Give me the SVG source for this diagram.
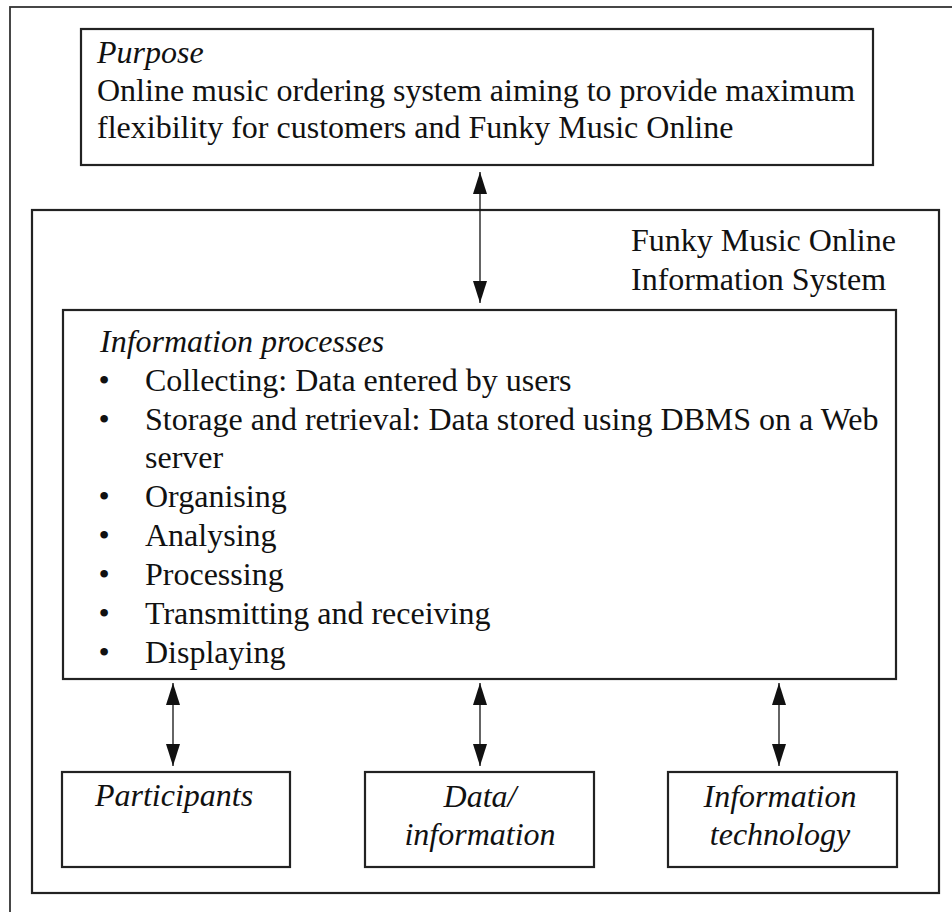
<svg xmlns="http://www.w3.org/2000/svg" width="952" height="912" viewBox="0 0 952 912">
  <defs>
    <style>
      .box { fill: none; stroke: #222; stroke-width: 2.2; }
      .frame { fill: none; stroke: #333; stroke-width: 1.8; }
      .t { font-family: "Liberation Serif", "Times New Roman", serif; font-size: 32px; fill: #111; }
      .i { font-style: italic; }
      .c { text-anchor: middle; }
      .conn { stroke: #111; stroke-width: 1.3; fill: none; marker-start: url(#ah); marker-end: url(#ah); }
    </style>
    <marker id="ah" markerUnits="userSpaceOnUse" markerWidth="22" markerHeight="14" viewBox="0 0 22 14" refX="22" refY="7" orient="auto-start-reverse">
      <path d="M0,0 L22,7 L0,14 Z" fill="#111"/>
    </marker>
  </defs>
  <rect width="952" height="912" fill="#fff"/>
  <rect class="frame" x="10" y="7" width="960" height="930"/>

  <g id="purpose">
    <rect class="box" x="81" y="29" width="792" height="136"/>
    <text class="t i" x="97" y="63">Purpose</text>
    <text class="t" x="97" y="101">Online music ordering system aiming to provide maximum</text>
    <text class="t" x="97" y="138">flexibility for customers and Funky Music Online</text>
  </g>

  <g id="system">
    <rect class="box" x="32" y="210" width="907" height="683"/>
    <text class="t" x="631" y="251">Funky Music Online</text>
    <text class="t" x="631" y="290">Information System</text>
  </g>

  <g id="processes">
    <rect class="box" x="63" y="310" width="833" height="369"/>
    <text class="t i" x="100" y="352">Information processes</text>
    <g class="t">
      <text x="104" y="391" class="c">•</text><text x="145" y="391">Collecting: Data entered by users</text>
      <text x="104" y="430" class="c">•</text><text x="145" y="430">Storage and retrieval: Data stored using DBMS on a Web</text>
      <text x="145" y="468">server</text>
      <text x="104" y="507" class="c">•</text><text x="145" y="507">Organising</text>
      <text x="104" y="546" class="c">•</text><text x="145" y="546">Analysing</text>
      <text x="104" y="585" class="c">•</text><text x="145" y="585">Processing</text>
      <text x="104" y="624" class="c">•</text><text x="145" y="624">Transmitting and receiving</text>
      <text x="104" y="663" class="c">•</text><text x="145" y="663">Displaying</text>
    </g>
  </g>

  <g id="participants">
    <rect class="box" x="62" y="772" width="228" height="95"/>
    <text class="t i c" x="174" y="806">Participants</text>
  </g>

  <g id="data">
    <rect class="box" x="365" y="772" width="229" height="95"/>
    <text class="t i c" x="480" y="807">Data/</text>
    <text class="t i c" x="480" y="845">information</text>
  </g>

  <g id="it">
    <rect class="box" x="668" y="772" width="229" height="95"/>
    <text class="t i c" x="780" y="807">Information</text>
    <text class="t i c" x="780" y="845">technology</text>
  </g>

  <g id="connectors">
    <line class="conn" x1="480" y1="172" x2="480" y2="303"/>
    <line class="conn" x1="173" y1="683" x2="173" y2="766"/>
    <line class="conn" x1="480" y1="683" x2="480" y2="766"/>
    <line class="conn" x1="779" y1="683" x2="779" y2="766"/>
  </g>
</svg>
